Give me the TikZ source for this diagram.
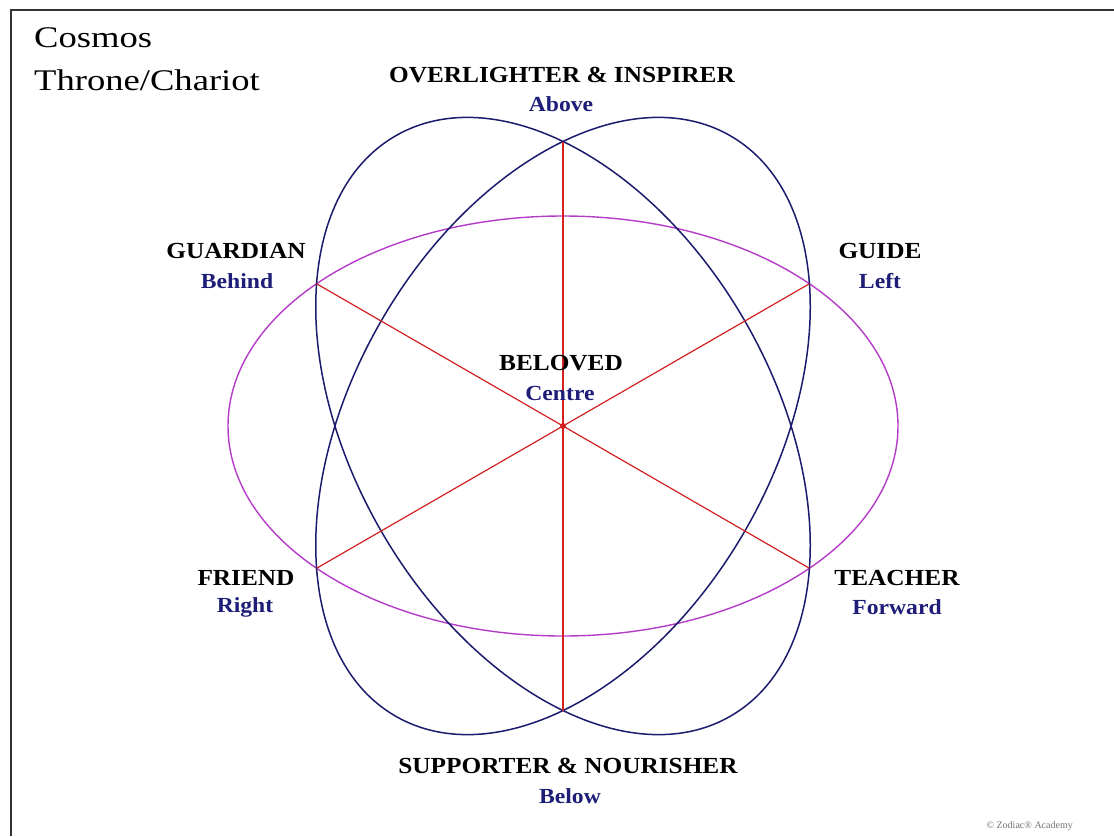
\documentclass[tikz,border=0pt]{standalone}
\usepackage{fontspec}
\usetikzlibrary{calc}
\setmainfont{Liberation Serif}
\newfontfamily\labfont[FakeStretch=1.1]{Liberation Serif}
\newfontfamily\titfont[FakeStretch=1.22]{Liberation Serif}
\definecolor{navy}{HTML}{1E1E78}
\definecolor{ringblue}{HTML}{1C1C6E}
\definecolor{ringmag}{HTML}{B43CC8}
\definecolor{spoke}{HTML}{D42020}
\tikzset{
  main/.style={anchor=base, inner sep=0pt, font=\labfont\bfseries\fontsize{23}{26}\selectfont, text=black},
  sub/.style={anchor=base, inner sep=0pt, font=\labfont\bfseries\fontsize{21.5}{24}\selectfont, text=navy},
  title/.style={anchor=base west, inner sep=0pt, font=\titfont\fontsize{30}{34}\selectfont, text=black},
  ring/.style={line width=1.5pt, draw=ringblue},
  magring/.style={line width=1.4pt, draw=ringmag},
  spokeline/.style={line width=1.2pt, draw=spoke},
  frame/.style={line width=2pt, draw=black!80}
}
\begin{document}
\begin{tikzpicture}[x=1pt,y=-1pt]
\useasboundingbox (0,0) rectangle (1114,836);
\fill[white] (0,0) rectangle (1114,836);
% frame
\coordinate (fb) at (11,836);
\coordinate (fc) at (11,10);
\coordinate (fr) at (1114,10);
\draw[frame] (fb) -- (fc) -- (fr);
% centre and hexagon vertices
\coordinate (C) at (563,426);
\coordinate (vA) at ($(C)+(0,-284.5)$);
\coordinate (vB) at ($(C)+(0,284.5)$);
\coordinate (vGd) at ($(C)+(-246.4,-142.25)$);
\coordinate (vGi) at ($(C)+(246.4,-142.25)$);
\coordinate (vF) at ($(C)+(-246.4,142.25)$);
\coordinate (vT) at ($(C)+(246.4,142.25)$);
% ellipses
\draw[magring] (C) ellipse [x radius=335, y radius=210];
\draw[ring, rotate around={60:(C)}] (C) ellipse [x radius=335, y radius=210];
\draw[ring, rotate around={-60:(C)}] (C) ellipse [x radius=335, y radius=210];
% spokes
\draw[spokeline] (vA) -- (vB);
\draw[spokeline] (vGd) -- (vT);
\draw[spokeline] (vGi) -- (vF);
\node[circle, fill=spoke, inner sep=0pt, minimum size=6pt] (dot) at (C) {};
% titles
\node[title] (cosmos) at (34,47) {Cosmos};
\node[title] (throne) at (34,90) {Throne/Chariot};
% labels
\node[main] (over) at (562,82) {OVERLIGHTER \& INSPIRER};
\node[sub] (above) at (561,111) {Above};
\node[main] (guard) at (236,258) {GUARDIAN};
\node[sub] (behind) at (237,288) {Behind};
\node[main] (guide) at (880,258) {GUIDE};
\node[sub] (left) at (880,288) {Left};
\node[main] (belov) at (561,370) {BELOVED};
\node[sub] (centre) at (560,400) {Centre};
\node[main] (friend) at (246,585) {FRIEND};
\node[sub] (right) at (245,612) {Right};
\node[main] (teach) at (897,585) {TEACHER};
\node[sub] (forw) at (897,614) {Forward};
\node[main] (supp) at (568,773) {SUPPORTER \& NOURISHER};
\node[sub] (below) at (570,803) {Below};
\node[anchor=base east, inner sep=0pt, font=\fontsize{10}{12}\selectfont, text=black!55] (copy) at (1073,828) {© Zodiac® Academy};
\end{tikzpicture}
\end{document}
